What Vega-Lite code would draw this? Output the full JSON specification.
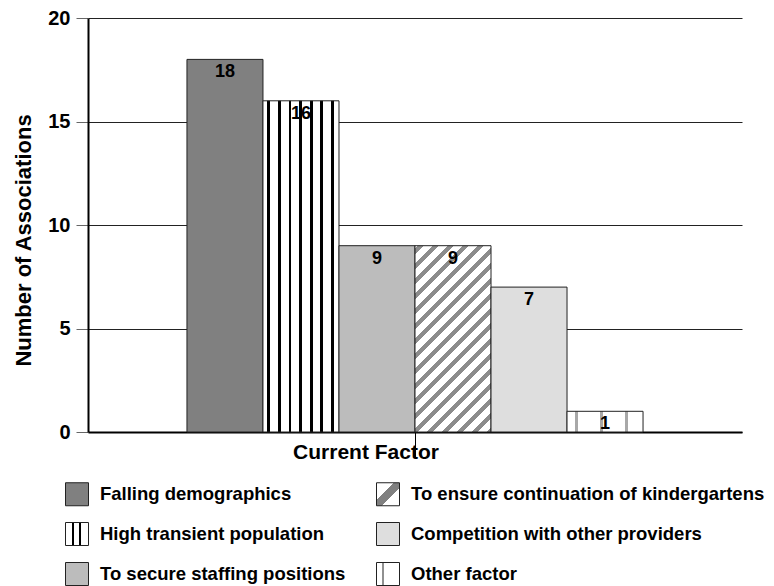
{
  "$schema": "https://vega.github.io/schema/vega-lite/v6.json",
  "width": 654,
  "height": 414,
  "autosize": {"type": "none"},
  "padding": {"left": 88, "top": 18, "right": 32, "bottom": 154},
  "background": "white",
  "config": {
    "font": "Liberation Sans",
    "view": {"stroke": null},
    "axis": {"labelFont": "Liberation Sans", "titleFont": "Liberation Sans", "labelColor": "black", "titleColor": "black"},
    "legend": {"labelFont": "Liberation Sans"}
  },
  "params": [
    {
      "name": "gDiag",
      "value": {
        "gradient": "linear", "x1": 0, "y1": 0, "x2": 0.494, "y2": 1.2075,
        "stops": [
          {"offset": 0, "color": "white"},
          {"offset": 0.010, "color": "white"}, {"offset": 0.010, "color": "#8c8c8c"}, {"offset": 0.033, "color": "#8c8c8c"}, {"offset": 0.033, "color": "white"},
          {"offset": 0.067, "color": "white"}, {"offset": 0.067, "color": "#8c8c8c"}, {"offset": 0.090, "color": "#8c8c8c"}, {"offset": 0.090, "color": "white"},
          {"offset": 0.124, "color": "white"}, {"offset": 0.124, "color": "#8c8c8c"}, {"offset": 0.147, "color": "#8c8c8c"}, {"offset": 0.147, "color": "white"},
          {"offset": 0.182, "color": "white"}, {"offset": 0.182, "color": "#8c8c8c"}, {"offset": 0.205, "color": "#8c8c8c"}, {"offset": 0.205, "color": "white"},
          {"offset": 0.239, "color": "white"}, {"offset": 0.239, "color": "#8c8c8c"}, {"offset": 0.262, "color": "#8c8c8c"}, {"offset": 0.262, "color": "white"},
          {"offset": 0.296, "color": "white"}, {"offset": 0.296, "color": "#8c8c8c"}, {"offset": 0.319, "color": "#8c8c8c"}, {"offset": 0.319, "color": "white"},
          {"offset": 0.353, "color": "white"}, {"offset": 0.353, "color": "#8c8c8c"}, {"offset": 0.376, "color": "#8c8c8c"}, {"offset": 0.376, "color": "white"},
          {"offset": 0.410, "color": "white"}, {"offset": 0.410, "color": "#8c8c8c"}, {"offset": 0.433, "color": "#8c8c8c"}, {"offset": 0.433, "color": "white"},
          {"offset": 0.468, "color": "white"}, {"offset": 0.468, "color": "#8c8c8c"}, {"offset": 0.491, "color": "#8c8c8c"}, {"offset": 0.491, "color": "white"},
          {"offset": 0.525, "color": "white"}, {"offset": 0.525, "color": "#8c8c8c"}, {"offset": 0.548, "color": "#8c8c8c"}, {"offset": 0.548, "color": "white"},
          {"offset": 0.582, "color": "white"}, {"offset": 0.582, "color": "#8c8c8c"}, {"offset": 0.605, "color": "#8c8c8c"}, {"offset": 0.605, "color": "white"},
          {"offset": 0.639, "color": "white"}, {"offset": 0.639, "color": "#8c8c8c"}, {"offset": 0.662, "color": "#8c8c8c"}, {"offset": 0.662, "color": "white"},
          {"offset": 0.696, "color": "white"}, {"offset": 0.696, "color": "#8c8c8c"}, {"offset": 0.719, "color": "#8c8c8c"}, {"offset": 0.719, "color": "white"},
          {"offset": 0.754, "color": "white"}, {"offset": 0.754, "color": "#8c8c8c"}, {"offset": 0.777, "color": "#8c8c8c"}, {"offset": 0.777, "color": "white"},
          {"offset": 0.811, "color": "white"}, {"offset": 0.811, "color": "#8c8c8c"}, {"offset": 0.834, "color": "#8c8c8c"}, {"offset": 0.834, "color": "white"},
          {"offset": 0.868, "color": "white"}, {"offset": 0.868, "color": "#8c8c8c"}, {"offset": 0.891, "color": "#8c8c8c"}, {"offset": 0.891, "color": "white"},
          {"offset": 0.925, "color": "white"}, {"offset": 0.925, "color": "#8c8c8c"}, {"offset": 0.948, "color": "#8c8c8c"}, {"offset": 0.948, "color": "white"},
          {"offset": 0.982, "color": "white"}, {"offset": 0.982, "color": "#8c8c8c"}, {"offset": 1, "color": "#8c8c8c"}
        ]
      }
    },
    {
      "name": "gVert",
      "value": {
        "gradient": "linear", "x1": 0, "y1": 0, "x2": 1, "y2": 0,
        "stops": [
          {"offset": 0, "color": "white"},
          {"offset": 0.056, "color": "white"}, {"offset": 0.056, "color": "black"}, {"offset": 0.092, "color": "black"}, {"offset": 0.092, "color": "white"},
          {"offset": 0.196, "color": "white"}, {"offset": 0.196, "color": "black"}, {"offset": 0.232, "color": "black"}, {"offset": 0.232, "color": "white"},
          {"offset": 0.336, "color": "white"}, {"offset": 0.336, "color": "black"}, {"offset": 0.372, "color": "black"}, {"offset": 0.372, "color": "white"},
          {"offset": 0.476, "color": "white"}, {"offset": 0.476, "color": "black"}, {"offset": 0.512, "color": "black"}, {"offset": 0.512, "color": "white"},
          {"offset": 0.616, "color": "white"}, {"offset": 0.616, "color": "black"}, {"offset": 0.652, "color": "black"}, {"offset": 0.652, "color": "white"},
          {"offset": 0.756, "color": "white"}, {"offset": 0.756, "color": "black"}, {"offset": 0.792, "color": "black"}, {"offset": 0.792, "color": "white"},
          {"offset": 0.896, "color": "white"}, {"offset": 0.896, "color": "black"}, {"offset": 0.932, "color": "black"}, {"offset": 0.932, "color": "white"},
          {"offset": 1, "color": "white"}
        ]
      }
    },
    {
      "name": "gOther",
      "value": {
        "gradient": "linear", "x1": 0, "y1": 0, "x2": 1, "y2": 0,
        "stops": [
          {"offset": 0, "color": "white"},
          {"offset": 0.10, "color": "white"}, {"offset": 0.10, "color": "#a8a8a8"}, {"offset": 0.14, "color": "#a8a8a8"}, {"offset": 0.14, "color": "white"},
          {"offset": 0.43, "color": "white"}, {"offset": 0.43, "color": "#a8a8a8"}, {"offset": 0.47, "color": "#a8a8a8"}, {"offset": 0.47, "color": "white"},
          {"offset": 0.76, "color": "white"}, {"offset": 0.76, "color": "#a8a8a8"}, {"offset": 0.80, "color": "#a8a8a8"}, {"offset": 0.80, "color": "white"},
          {"offset": 1, "color": "white"}
        ]
      }
    },
    {
      "name": "gOtherL",
      "value": {
        "gradient": "linear", "x1": 0, "y1": 0, "x2": 1, "y2": 0,
        "stops": [
          {"offset": 0, "color": "white"},
          {"offset": 0.22, "color": "white"}, {"offset": 0.22, "color": "#909090"}, {"offset": 0.34, "color": "#909090"}, {"offset": 0.34, "color": "white"},
          {"offset": 1, "color": "white"}
        ]
      }
    },
    {
      "name": "gDiagL",
      "value": {
        "gradient": "linear", "x1": 0, "y1": 0, "x2": 1, "y2": 1,
        "stops": [
          {"offset": 0, "color": "white"}, {"offset": 0.38, "color": "white"}, {"offset": 0.38, "color": "#808080"},
          {"offset": 0.62, "color": "#808080"}, {"offset": 0.62, "color": "white"}, {"offset": 1, "color": "white"}
        ]
      }
    },
    {
      "name": "gVertL",
      "value": {
        "gradient": "linear", "x1": 0, "y1": 0, "x2": 1, "y2": 0,
        "stops": [
          {"offset": 0, "color": "white"},
          {"offset": 0.30, "color": "white"}, {"offset": 0.30, "color": "black"}, {"offset": 0.39, "color": "black"}, {"offset": 0.39, "color": "white"},
          {"offset": 0.60, "color": "white"}, {"offset": 0.60, "color": "black"}, {"offset": 0.69, "color": "black"}, {"offset": 0.69, "color": "white"},
          {"offset": 1, "color": "white"}
        ]
      }
    }
  ],
  "data": {
    "values": [
      {"group": "Current Factor", "factor": "Falling demographics", "count": 18},
      {"group": "Current Factor", "factor": "High transient population", "count": 16},
      {"group": "Current Factor", "factor": "To secure staffing positions", "count": 9},
      {"group": "Current Factor", "factor": "To ensure continuation of kindergartens", "count": 9},
      {"group": "Current Factor", "factor": "Competition with other providers", "count": 7},
      {"group": "Current Factor", "factor": "Other factor", "count": 1}
    ]
  },
  "encoding": {
    "x": {
      "field": "group",
      "type": "nominal",
      "scale": {"paddingInner": 0, "paddingOuter": 0.217},
      "axis": {
        "title": null,
        "labelAngle": 0,
        "labelFontSize": 21,
        "labelFontWeight": "bold",
        "labelPadding": -16,
        "labelOffset": -49,
        "domainColor": "black",
        "domainWidth": 2,
        "tickColor": "black",
        "tickSize": 25,
        "tickWidth": 1
      }
    },
    "xOffset": {
      "field": "factor",
      "type": "nominal",
      "scale": {
        "domain": ["Falling demographics", "High transient population", "To secure staffing positions", "To ensure continuation of kindergartens", "Competition with other providers", "Other factor"],
        "paddingInner": 0,
        "paddingOuter": 0
      }
    },
    "y": {
      "field": "count",
      "type": "quantitative",
      "scale": {"domain": [0, 20], "nice": false},
      "axis": {
        "values": [0, 5, 10, 15, 20],
        "title": "Number of Associations",
        "titleFontSize": 22,
        "titleFontWeight": "bold",
        "titleX": -53,
        "titleY": 222,
        "labelFontSize": 20,
        "labelFontWeight": "bold",
        "labelPadding": 6,
        "tickSize": 12,
        "tickColor": "#666666",
        "domainColor": "black",
        "domainWidth": 2,
        "grid": true,
        "gridColor": "#222222",
        "gridWidth": 1
      }
    }
  },
  "layer": [
    {
      "mark": {
        "type": "bar",
        "strokeWidth": 1,
        "fill": {"expr": "datum.factor == 'High transient population' ? gVert : datum.factor == 'To ensure continuation of kindergartens' ? gDiag : datum.factor == 'Other factor' ? gOther : datum.factor == 'Falling demographics' ? '#808080' : datum.factor == 'To secure staffing positions' ? '#bcbcbc' : '#dedede'"}
      },
      "encoding": {
        "stroke": {
          "field": "factor",
          "type": "nominal",
          "scale": {
            "domain": ["Falling demographics", "High transient population", "To secure staffing positions", "To ensure continuation of kindergartens", "Competition with other providers", "Other factor"],
            "range": ["#222222", "#222222", "#222222", "#222222", "#222222", "#222222"]
          },
          "legend": {
            "title": null,
            "orient": "none",
            "legendX": -23,
            "legendY": 464,
            "direction": "vertical",
            "columns": 2,
            "columnPadding": 28,
            "rowPadding": 12,
            "padding": 0,
            "symbolType": "square",
            "symbolSize": 529,
            "symbolStrokeWidth": 1,
            "symbolOpacity": 1,
            "labelFontSize": 18.5,
            "labelFontWeight": "bold",
            "labelColor": "black",
            "labelOffset": 11,
            "labelLimit": 500,
            "encoding": {
              "symbols": {
                "fill": {"value": {"expr": "datum.value == 'High transient population' ? gVertL : datum.value == 'To ensure continuation of kindergartens' ? gDiagL : datum.value == 'Other factor' ? gOtherL : datum.value == 'Falling demographics' ? '#808080' : datum.value == 'To secure staffing positions' ? '#bcbcbc' : '#dedede'"}},
                "opacity": {"value": 1}
              }
            }
          }
        }
      }
    },
    {
      "mark": {"type": "text", "baseline": "top", "dy": 4, "fontSize": 18, "fontWeight": "bold", "color": "black"},
      "encoding": {"text": {"field": "count", "type": "quantitative"}}
    }
  ]
}
